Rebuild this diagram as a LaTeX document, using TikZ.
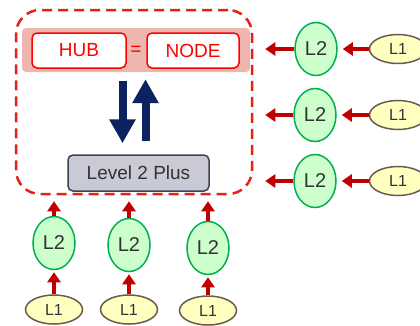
\documentclass[tikz,border=0pt]{standalone}
\usepackage{fontspec}
\setmainfont{Liberation Sans}
\usetikzlibrary{arrows.meta, positioning, shapes.geometric}
\definecolor{HubRed}{HTML}{FF0000}
\definecolor{FrameRed}{HTML}{E3221B}
\definecolor{BandPink}{HTML}{EDB7AF}
\definecolor{ArrowRed}{HTML}{C00000}
\definecolor{FlowNavy}{HTML}{0D2260}
\definecolor{PlusGray}{HTML}{C9CAD6}
\definecolor{PlusEdge}{HTML}{3A4453}
\definecolor{LtwoFill}{HTML}{CCFFCC}
\definecolor{LtwoEdge}{HTML}{00B050}
\definecolor{LoneFill}{HTML}{FFFFC0}
\definecolor{LoneEdge}{HTML}{6B5B4E}
\definecolor{TextGray}{HTML}{333333}

\begin{document}
\begin{tikzpicture}[x=1pt, y=-1pt,
    framebox/.style={
      rectangle, rounded corners=24pt, draw=FrameRed, line width=2.5pt,
      dash pattern=on 10pt off 6pt, minimum width=236pt, minimum height=184pt
    },
    bandbox/.style={
      rectangle, rounded corners=4pt, fill=BandPink,
      minimum width=228pt, minimum height=44pt
    },
    hubbox/.style={
      rectangle, rounded corners=5pt, draw=HubRed, fill=white, line width=1.5pt,
      text=HubRed, minimum height=35pt, font=\fontsize{19}{22}\selectfont
    },
    plusbox/.style={
      rectangle, rounded corners=5pt, draw=PlusEdge, fill=PlusGray, line width=1.5pt,
      text=TextGray, minimum width=141pt, minimum height=36pt, font=\fontsize{19}{22}\selectfont
    },
    ltwo/.style={
      ellipse, draw=LtwoEdge, fill=LtwoFill, line width=1.5pt, inner sep=0pt,
      minimum width=42pt, minimum height=53pt, text=TextGray, font=\fontsize{20}{24}\selectfont
    },
    lone/.style={
      ellipse, draw=LoneEdge, fill=LoneFill, line width=1.5pt, inner sep=0pt,
      minimum width=57pt, minimum height=29pt, text=TextGray, font=\fontsize{16}{19}\selectfont
    },
    feed/.style={-{Triangle[length=10pt, width=13pt]}, line width=4pt, draw=ArrowRed},
    flow/.style={-{Triangle[length=24pt, width=25pt]}, line width=8pt, draw=FlowNavy}
  ]
    \useasboundingbox (0,0) rectangle (420,325);

    % hub frame
    \node[framebox] (frame) at (134,102) {};
    \node[bandbox] (band) at (136,50) {};
    \node[hubbox, minimum width=94pt] (hub) at (79,50.5) {HUB};
    \node[hubbox, minimum width=92pt] (nodebox) at (193,50.5) {NODE};
    \node[text=HubRed, font=\fontsize{19}{22}\selectfont] (eq) at (136,51) {=};
    \node[plusbox] (plus) at (138.5,173) {Level 2 Plus};

    \draw[flow] ([xshift=-13.5pt, yshift=-9pt]band.south) -- ([xshift=-16pt, yshift=11pt]plus.north);
    \draw[flow] ([xshift=7pt, yshift=13pt]plus.north) -- ([xshift=9.5pt, yshift=-7pt]band.south);

    % right column
    \node[ltwo] (r2a) at (316,49) {L2};
    \node[ltwo] (r2b) at (315,115) {L2};
    \node[ltwo] (r2c) at (315,181) {L2};
    \node[lone, right=31pt of r2a] (r1a) {L1};
    \node[lone, right=32pt of r2b] (r1b) {L1};
    \node[lone, right=32pt of r2c] (r1c) {L1};

    % bottom row
    \node[ltwo] (b2a) at (54,243) {L2};
    \node[ltwo] (b2b) at (129,245) {L2};
    \node[ltwo] (b2c) at (208,248) {L2};
    \node[lone, below=24pt of b2a] (b1a) {L1};
    \node[lone, below=22pt of b2b] (b1b) {L1};
    \node[lone, below=20pt of b2c] (b1c) {L1};

    \draw[feed, shorten >=5pt] (r1a) -- (r2a);
    \draw[feed, shorten >=5pt] (r1b) -- (r2b);
    \draw[feed, shorten >=5pt] (r1c) -- (r2c);
    \draw[feed, shorten >=12pt] (r2a.west) -- (r2a.west -| frame.east);
    \draw[feed, shorten >=12pt] (r2b.west) -- (r2b.west -| frame.east);
    \draw[feed, shorten >=12pt] (r2c.west) -- (r2c.west -| frame.east);

    \draw[feed, shorten >=2pt] (b1a) -- (b2a);
    \draw[feed, shorten >=2pt] (b1b) -- (b2b);
    \draw[feed, shorten >=2pt] (b1c) -- (b2c);
    \draw[feed, shorten >=6pt] (b2a.north) -- (b2a.north |- frame.south);
    \draw[feed, shorten >=6pt] (b2b.north) -- (b2b.north |- frame.south);
    \draw[feed, shorten >=6pt] (b2c.north) -- (b2c.north |- frame.south);
  \end{tikzpicture}
\end{document}
